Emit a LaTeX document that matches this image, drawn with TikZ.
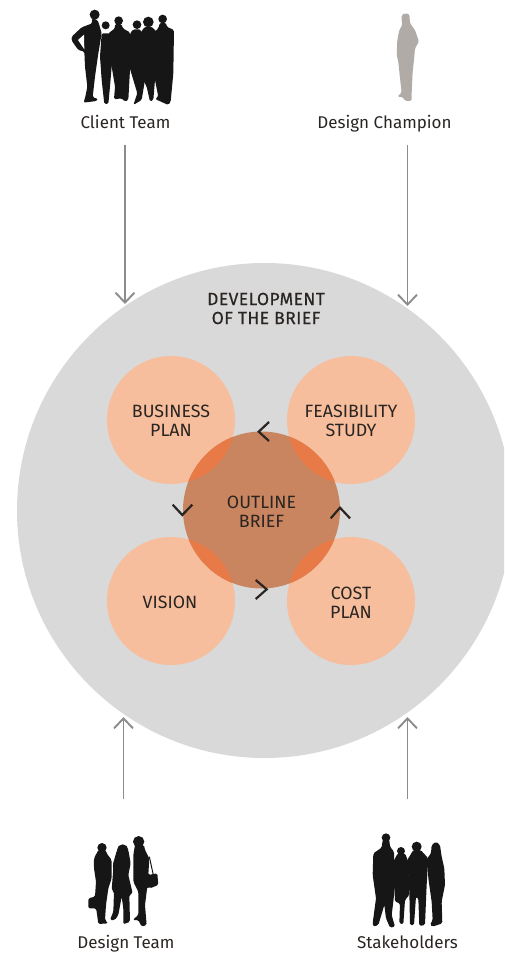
\documentclass[tikz,border=0pt]{standalone}
\usepackage{fontspec}
\setmainfont{Fira Sans}
\usetikzlibrary{arrows.meta}
\definecolor{bigc}{HTML}{D9D9D9}
\definecolor{peach}{HTML}{F6BE9C}
\definecolor{brownc}{HTML}{C9855F}
\definecolor{hot}{HTML}{E87A48}
\definecolor{inkc}{HTML}{2A2522}
\definecolor{grayp}{HTML}{B0ABA7}
\definecolor{blackp}{HTML}{161616}
\definecolor{arrowc}{HTML}{8C8C8C}
\tikzset{
  x=1pt,y=-1pt,
  disc/.style={circle,inner sep=0pt,outer sep=0pt,align=center,text=inkc,font=\fontsize{17.8}{19}\selectfont},
  lbl/.style={inner sep=0pt,anchor=base,text=inkc,font=\fontsize{17}{19}\selectfont},
  flow/.style={draw=arrowc,line width=1.9pt,-{Straight Barb[length=10pt,width=19pt,line width=1.9pt]}},
  chev/.style={draw=inkc,line width=2.2pt},
  sil/.style={fill=blackp,draw=none,rounded corners=1.5pt},
  zoomed/.style={x=0.3333pt,y=-0.3333pt},
}
\begin{document}
\begin{tikzpicture}
\useasboundingbox (0,0) rectangle (504,953);
\clip (0,0) rectangle (504,953);
% big disc
\node[disc,fill=bigc,minimum size=495pt] (big) at (264.5,510.5) {};
\node[inner sep=0pt,align=center,text=inkc,font=\fontsize{17.5}{19}\selectfont\addfontfeature{FakeBold=0.4,LetterSpace=2.5}] (dev) at (266,308.5) {DEVELOPMENT\\OF THE BRIEF};
% small discs
\node[disc,fill=peach,minimum size=128pt] (bp) at (171,420) {};
\node[disc,fill=peach,minimum size=128pt] (fs) at (351,420) {};
\node[disc,fill=peach,minimum size=128pt] (vi) at (171,601) {};
\node[disc,fill=peach,minimum size=128pt] (cp) at (351,601) {};
\node[disc,fill=brownc,minimum size=157pt] (ob) at (261.5,510) {};
\begin{scope}
  \clip (261.5,510) circle (78.5);
  \fill[hot] (171,420) circle (64) (351,420) circle (64) (171,601) circle (64) (351,601) circle (64);
\end{scope}
\node[disc] (bpt) at (171,420.5) {BUSINESS\\PLAN};
\node[disc] (fst) at (351,420.5) {FEASIBILITY\\STUDY};
\node[disc] (vit) at (170,602) {VISION};
\node[disc] (cpt) at (351,602.5) {COST\\PLAN};
\node[disc] (obt) at (261.5,511.5) {OUTLINE\\BRIEF};
% chevrons
\draw[chev] (269,422) -- (258.7,431.7) -- (269,441);
\draw[chev] (255.7,580) -- (266.7,589.3) -- (255.7,599);
\draw[chev] (172.7,504.7) -- (182.3,515) -- (192.3,504.7);
\draw[chev] (330.7,518.3) -- (340,507.7) -- (350,518.3);
% labels
\node[lbl] (ct) at (125.5,128.5) {Client Team};
\node[lbl] (dc) at (384.5,128.5) {Design Champion};
\node[lbl] (dt) at (126,948.5) {Design Team};
\node[lbl] (sh) at (407.5,948.5) {Stakeholders};
% connectors
\coordinate (a1s) at (125,145); \coordinate (a1e) at (125,304);
\coordinate (a2s) at (407.5,145); \coordinate (a2e) at (407.5,306);
\coordinate (a3s) at (123.5,799); \coordinate (a3e) at (123.5,717);
\coordinate (a4s) at (407.5,799); \coordinate (a4e) at (407.5,717);
\draw[flow] (a1s) -- (a1e);
\draw[flow] (a2s) -- (a2e);
\draw[flow] (a3s) -- (a3e);
\draw[flow] (a4s) -- (a4e);
% Client Team silhouette
\begin{scope}[shift={(50,0)},zoomed]
  \fill[blackp] (134,44) circle (15) (167,76) circle (12) (206,62) circle (13) (261,74) circle (13) (295,66) circle (16) (338,57) circle (13);
  \fill[sil] (125,55)--(127,70)--(95,82)--(65,110)--(65,122)--(85,150)--(103,155)--(105,200)--(112,260)--(105,295)--(100,308)--(140,303)--(145,297)--(128,292)--(135,230)--(145,160)--(155,100)--(148,75)--(143,60)--cycle;
  \fill[white] (84,120)--(102,104)--(103,148)--cycle;
  \fill[sil] (155,100)--(180,100)--(190,170)--(185,200)--(180,260)--(175,312)--(163,312)--(155,240)--(150,170)--cycle;
  \fill[sil] (195,72)--(215,72)--(218,85)--(240,97)--(240,210)--(235,300)--(225,305)--(215,295)--(192,298)--(195,260)--(185,200)--(175,100)--(195,85)--cycle;
  \fill[sil] (250,88)--(272,88)--(280,150)--(285,240)--(275,300)--(250,315)--(262,280)--(250,240)--(238,200)--(240,100)--cycle;
  \fill[sil] (285,80)--(305,80)--(325,100)--(320,200)--(315,240)--(310,300)--(300,305)--(290,260)--(275,230)--(270,100)--cycle;
  \fill[sil] (330,68)--(348,68)--(350,80)--(372,90)--(370,220)--(362,305)--(355,315)--(315,297)--(325,290)--(315,240)--(310,100)--(325,85)--cycle;
\end{scope}
% Design Champion silhouette
\begin{scope}[shift={(340,0)},zoomed]
  \fill[grayp,rounded corners=1.5pt] (185,45)--(195,40)--(208,42)--(210,70)--(225,90)--(237,125)--(225,145)--(222,180)--(218,215)--(215,280)--(215,303)--(195,303)--(190,292)--(172,290)--(185,278)--(180,235)--(175,185)--(170,165)--(172,120)--(178,90)--(187,75)--(185,60)--cycle;
\end{scope}
% Design Team silhouette
\begin{scope}[shift={(70,825)},zoomed]
  \fill[blackp] (96,68) circle (14) (158,75) circle (17) (206,50) circle (17);
  \fill[sil] (85,75)--(107,75)--(110,85)--(125,105)--(125,160)--(115,190)--(108,240)--(105,285)--(115,295)--(85,297)--(80,260)--(78,250)--(55,250)--(55,220)--(75,215)--(78,170)--(72,130)--(72,100)--cycle;
  \fill[sil] (141,75)--(175,75)--(182,115)--(175,150)--(188,205)--(178,210)--(180,290)--(160,298)--(160,250)--(155,215)--(145,270)--(135,285)--(120,285)--(130,260)--(132,200)--(125,195)--(130,130)--(128,120)--cycle;
  \fill[sil] (195,60)--(222,60)--(225,75)--(238,100)--(235,150)--(262,145)--(265,180)--(240,190)--(232,185)--(225,240)--(230,300)--(215,305)--(205,285)--(188,285)--(205,270)--(205,200)--(190,170)--(190,90)--cycle;
  \draw[blackp,line width=1pt] (238,95)--(250,150);
\end{scope}
% Stakeholders silhouette
\begin{scope}[shift={(350,825)},zoomed]
  \fill[blackp] (108,38) circle (13) (153,78) circle (12) (200,65) circle (15);
  \fill[sil] (98,45)--(118,45)--(120,65)--(132,80)--(135,180)--(130,230)--(125,270)--(135,305)--(120,308)--(108,280)--(103,240)--(85,300)--(70,305)--(68,295)--(78,220)--(68,150)--(70,85)--(95,68)--cycle;
  \fill[sil] (143,85)--(165,85)--(175,110)--(178,210)--(165,225)--(160,298)--(148,295)--(150,235)--(135,230)--(130,110)--cycle;
  \fill[sil] (190,75)--(212,75)--(235,100)--(230,180)--(225,300)--(208,303)--(205,220)--(198,215)--(192,300)--(180,300)--(178,200)--(172,105)--cycle;
  \fill[sil] (245,60)--(258,50)--(270,60)--(275,95)--(283,130)--(285,180)--(275,230)--(277,295)--(262,300)--(248,305)--(240,300)--(248,285)--(245,230)--(235,160)--(232,100)--(243,85)--cycle;
\end{scope}
\end{tikzpicture}
\end{document}
